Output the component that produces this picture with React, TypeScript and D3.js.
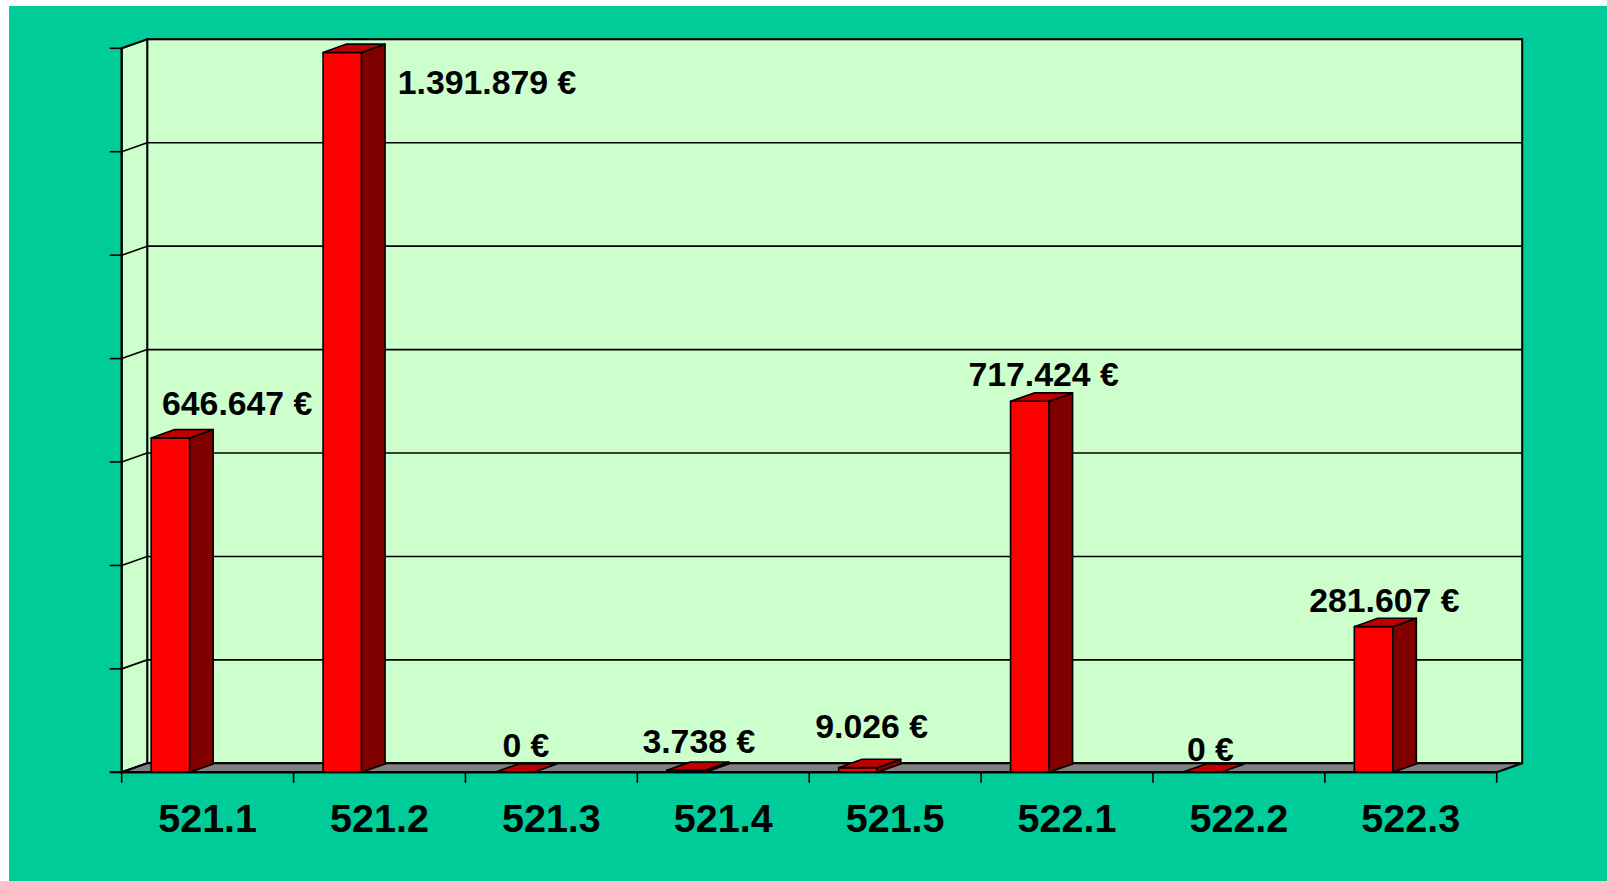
import React from "react";
import * as d3 from "d3";

const categories = ["521.1", "521.2", "521.3", "521.4", "521.5", "522.1", "522.2", "522.3"];
const values = [646647, 1391879, 0, 3738, 9026, 717424, 0, 281607];
const valueLabels = ["646.647 €", "1.391.879 €", "0 €", "3.738 €", "9.026 €", "717.424 €", "0 €", "281.607 €"];
const yTicks = [0, 200000, 400000, 600000, 800000, 1000000, 1200000, 1400000];

// layout (pixels)
const W = 1607;
const H = 881;
const FRONT_LEFT = 121.7;
const FRONT_RIGHT = 1496.7;
const FRONT_BOTTOM = 772.3;
const FRONT_TOP = 48.3;
const DEPTH_X = 25.5;
const DEPTH_Y = -9;
const BAR_DX = 23.5;
const BAR_DY = -8.4;
const labelNudge: [number, number][] = [
  [55, -8], [133, 56], [0, 0], [1, -2], [2, -15], [2, 0], [-3, 4], [-1, 0],
];

const FONT = "'Liberation Sans', Arial, Helvetica, sans-serif";

export default function App() {
  const x = d3.scaleBand<string>().domain(categories).range([FRONT_LEFT, FRONT_RIGHT]).padding(0);
  const y = d3.scaleLinear().domain([0, 1400000]).range([FRONT_BOTTOM, FRONT_TOP]);
  const bw = x.bandwidth();
  const barOff = bw * 0.1716;
  const barW = bw * 0.224;

  const backLeft = FRONT_LEFT + DEPTH_X;
  const backRight = FRONT_RIGHT + DEPTH_X;
  const backTop = FRONT_TOP + DEPTH_Y;
  const backBottom = FRONT_BOTTOM + DEPTH_Y;

  const pts = (a: number[][]) => a.map((p) => p.join(",")).join(" ");
  const boundaries = [...categories.map((c) => x(c) as number), FRONT_RIGHT];

  return (
    <svg width={W} height={H} style={{ position: "absolute", left: 0, top: 0, display: "block" }}>
      <rect x={9} y={6} width={W - 9} height={H - 6} fill="#00CC99" />
      {/* back wall */}
      <rect x={backLeft} y={backTop} width={backRight - backLeft} height={backBottom - backTop} fill="#CCFFCC" stroke="#000" strokeWidth={2} />
      {/* side wall */}
      <polygon
        points={pts([[FRONT_LEFT, FRONT_TOP], [backLeft, backTop], [backLeft, backBottom], [FRONT_LEFT, FRONT_BOTTOM]])}
        fill="#CCFFCC" stroke="#000" strokeWidth={2}
      />
      {/* gridlines */}
      {yTicks.map((t) => (
        <g key={t}>
          <line x1={backLeft} x2={backRight} y1={y(t) + DEPTH_Y} y2={y(t) + DEPTH_Y} stroke="#000" strokeWidth={1.6} />
          <line x1={FRONT_LEFT} x2={backLeft} y1={y(t)} y2={y(t) + DEPTH_Y} stroke="#000" strokeWidth={1.6} />
          <line x1={FRONT_LEFT - 12} x2={FRONT_LEFT} y1={y(t)} y2={y(t)} stroke="#000" strokeWidth={1.6} />
        </g>
      ))}
      {/* floor */}
      <polygon
        points={pts([[FRONT_LEFT, FRONT_BOTTOM], [FRONT_RIGHT, FRONT_BOTTOM], [backRight, backBottom], [backLeft, backBottom]])}
        fill="#808080" stroke="#000" strokeWidth={2}
      />
      {/* bars */}
      {categories.map((c, i) => {
        const x0 = (x(c) as number) + barOff;
        const x1 = x0 + barW;
        const yt = y(values[i]);
        const yb = FRONT_BOTTOM;
        return (
          <g key={c} stroke="#000" strokeWidth={1.6} strokeLinejoin="round">
            {values[i] > 0 && <rect x={x0} y={yt} width={barW} height={yb - yt} fill="#FF0000" />}
            {values[i] > 0 && (
              <polygon points={pts([[x1, yt], [x1 + BAR_DX, yt + BAR_DY], [x1 + BAR_DX, yb + BAR_DY], [x1, yb]])} fill="#800000" />
            )}
            <polygon points={pts([[x0, yt], [x1, yt], [x1 + BAR_DX, yt + BAR_DY], [x0 + BAR_DX, yt + BAR_DY]])} fill="#C00000" />
          </g>
        );
      })}
      {/* front axes */}
      <line x1={FRONT_LEFT} x2={FRONT_LEFT} y1={FRONT_TOP} y2={FRONT_BOTTOM} stroke="#000" strokeWidth={2} />
      <line x1={FRONT_LEFT - 12} x2={FRONT_RIGHT} y1={FRONT_BOTTOM} y2={FRONT_BOTTOM} stroke="#000" strokeWidth={2} />
      {boundaries.map((b, i) => (
        <line key={i} x1={b} x2={b} y1={FRONT_BOTTOM} y2={FRONT_BOTTOM + 10.5} stroke="#000" strokeWidth={1.6} />
      ))}
      {/* category labels */}
      {categories.map((c) => (
        <text key={c} x={(x(c) as number) + bw / 2} y={831.7} textAnchor="middle" fontFamily={FONT} fontWeight="bold" fontSize={39.5} fill="#000">
          {c}
        </text>
      ))}
      {/* value labels */}
      {categories.map((c, i) => {
        const cx = (x(c) as number) + barOff + (barW + BAR_DX) / 2 + labelNudge[i][0];
        const by = y(values[i]) + BAR_DY - 6.5 + labelNudge[i][1];
        return (
          <text key={c} x={cx} y={by} textAnchor="middle" fontFamily={FONT} fontWeight="bold" fontSize={33.8} fill="#000">
            {valueLabels[i]}
          </text>
        );
      })}
    </svg>
  );
}
